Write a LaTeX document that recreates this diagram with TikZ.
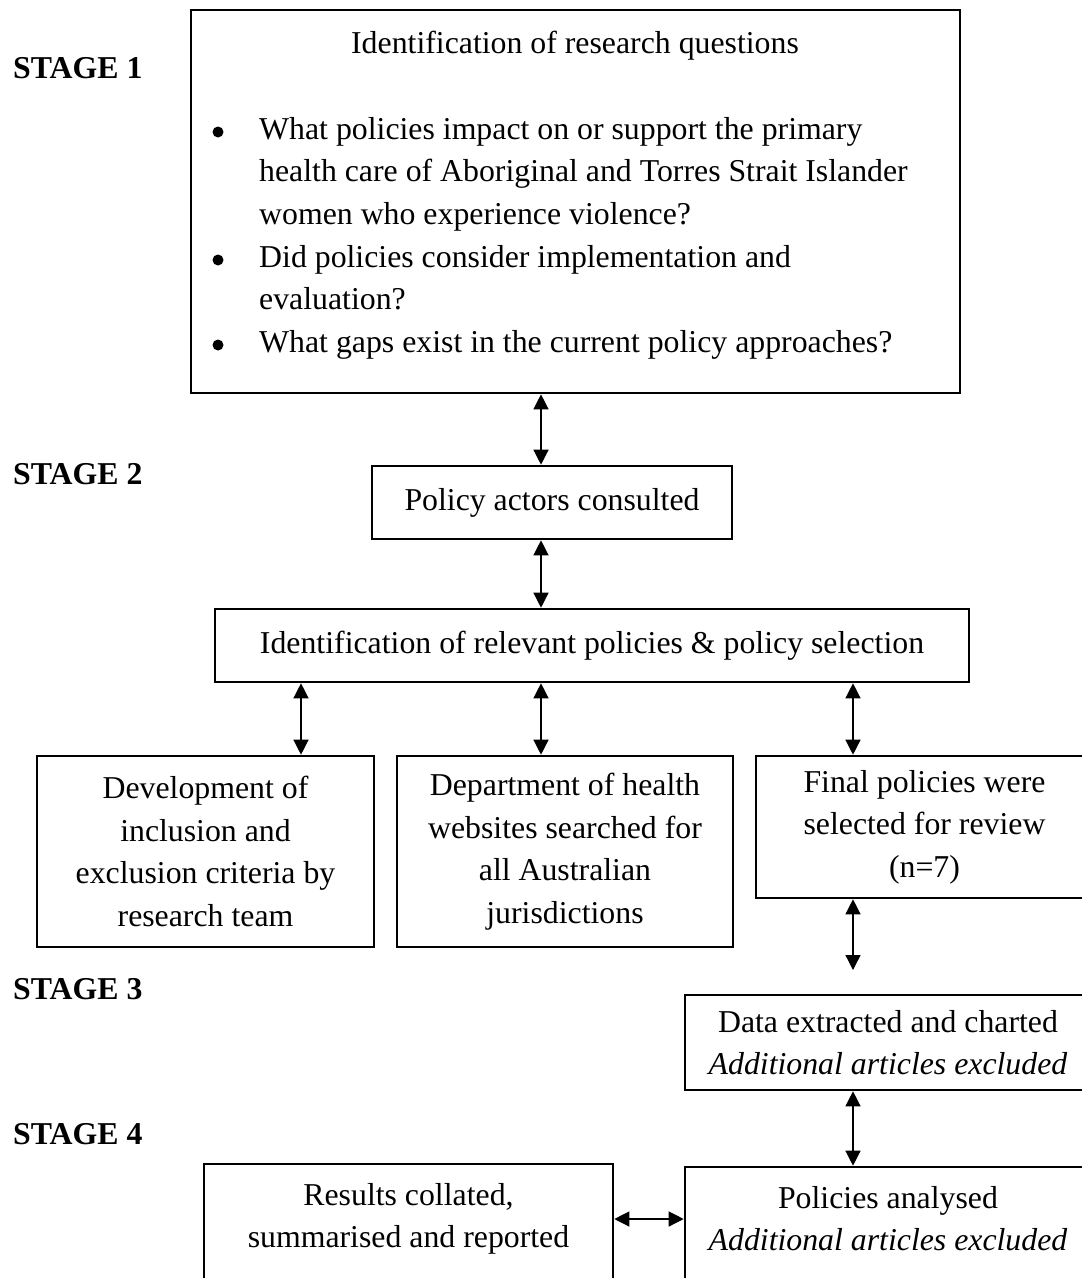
\documentclass[tikz,border=0pt]{standalone}
\usepackage{fontspec}
\setmainfont{Liberation Serif}
\usetikzlibrary{arrows.meta}
\newcommand\mainfnt{\fontsize{31.8bp}{42.6bp}\selectfont}
\begin{document}
\begin{tikzpicture}[x=1bp,y=-1bp,
  box/.style={draw, line width=2.6bp, align=center, inner sep=0pt, font=\mainfnt},
  txt/.style={font=\mainfnt, inner sep=0pt},
  stage/.style={font=\mainfnt\bfseries, inner sep=0pt, anchor=base west},
  link/.style={line width=1.3bp, {Triangle[width=15bp,length=15bp]}-{Triangle[width=15bp,length=15bp]}},
  bullet/.style={circle, fill, inner sep=0pt, minimum size=11bp}]
\useasboundingbox (0,0) rectangle (1082,1278);
\clip (0,0) rectangle (1082,1278);

% stage labels
\node[stage] (s1) at (13,78) {STAGE 1};
\node[stage] (s2) at (13,484) {STAGE 2};
\node[stage] (s3) at (13,999) {STAGE 3};
\node[stage] (s4) at (13,1144) {STAGE 4};

% stage 1 box
\node[box, minimum width=769bp, minimum height=383bp] (q) at (575.5,201.5) {};
\node[txt, anchor=base] (qt) at (575,53) {Identification of research questions};
\node[bullet] (b1) at (218,132) {};
\node[bullet] (b2) at (218,260) {};
\node[bullet] (b3) at (218,345) {};
\node[txt, anchor=base west] (l1) at (259,139) {What policies impact on or support the primary};
\node[txt, anchor=base west] (l2) at (259,181.5) {health care of Aboriginal and Torres Strait Islander};
\node[txt, anchor=base west] (l3) at (259,224) {women who experience violence?};
\node[txt, anchor=base west] (l4) at (259,267) {Did policies consider implementation and};
\node[txt, anchor=base west] (l5) at (259,309.5) {evaluation?};
\node[txt, anchor=base west] (l6) at (259,352) {What gaps exist in the current policy approaches?};

% stage 2
\node[box, minimum width=360bp, minimum height=73bp] (pa) at (552,502.5) {Policy actors consulted};
\node[box, minimum width=754bp, minimum height=73bp] (id) at (592,645.5) {Identification of relevant policies \& policy selection};
\node[box, minimum width=337bp, minimum height=191bp] (dev) at (205.5,851.5) {Development of\\inclusion and\\exclusion criteria by\\research team};
\node[box, minimum width=336bp, minimum height=191bp] (dep) at (565,851.5) {Department of health\\websites searched for\\all Australian\\jurisdictions};
\node[box, minimum width=337bp, minimum height=142bp] (fin) at (924.5,827) {Final policies were\\selected for review\\(n=7)};

% stage 3
\node[box, minimum width=406bp, minimum height=95bp] (dat) at (888,1042.5) {Data extracted and charted\\\textit{Additional articles excluded}};

% stage 4
\node[box, minimum width=406bp, minimum height=158bp] (pol) at (888,1246) {Policies analysed\\\textit{Additional articles excluded}\\\strut};
\node[box, minimum width=409bp, minimum height=158bp] (res) at (408.5,1243) {Results collated,\\summarised and reported\\\strut};

% guide coordinates
\coordinate (xm) at (541,0);
\coordinate (xl) at (301,0);
\coordinate (xr) at (853,0);
\coordinate (yh) at (0,1219);
\coordinate (fe) at (853,970);

% connectors
\draw[link] (q.south -| xm) -- (pa.north -| xm);
\draw[link] (pa.south -| xm) -- (id.north -| xm);
\draw[link] (id.south -| xl) -- (dev.north -| xl);
\draw[link] (id.south -| xm) -- (dep.north -| xm);
\draw[link] (id.south -| xr) -- (fin.north -| xr);
\draw[link] (fin.south -| xr) -- (fe);
\draw[link] (dat.south -| xr) -- (pol.north -| xr);
\draw[link] (res.east |- yh) -- (pol.west |- yh);
\end{tikzpicture}
\end{document}
